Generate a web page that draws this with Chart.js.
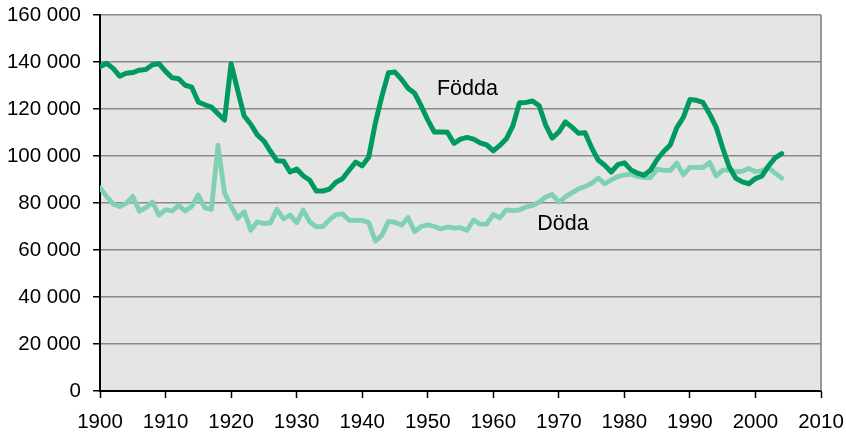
<!DOCTYPE html>
<html>
<head>
<meta charset="utf-8">
<script src="https://cdn.jsdelivr.net/npm/chart.js@4.4.0/dist/chart.umd.min.js"></script>
<style>
html,body{margin:0;padding:0;background:#fff;}
#wrap{width:846px;height:434px;position:relative;}
</style>
</head>
<body>
<div id="wrap"><canvas id="c" width="846" height="434"></canvas></div>
<script>
const years = [];
for (let y = 1900; y <= 2004; y++) years.push(y);

const fodda = [
138000,139500,137300,134000,135200,135500,136500,136800,138800,139300,
136000,133300,132900,130100,129300,123000,121800,120800,118000,115300,
139300,128000,117000,113500,109000,106400,102000,98000,97800,93200,
94500,91600,89700,85100,85100,85900,88800,90300,93900,97400,
95800,99600,113900,125400,135400,135700,132600,128800,126700,121300,
115400,110200,110200,110100,105400,107200,107900,107200,105600,104700,
102200,104500,107300,112900,122700,122800,123400,121400,113100,107600,
110200,114500,112300,109700,109900,103600,98300,96100,93200,96300,
97100,94100,92700,91800,94000,98500,101900,104700,112100,116400,
124000,123700,122800,117900,112300,103400,95300,90500,89000,88200,
90400,91500,95800,99200,101000
];

const doda = [
86500,82800,79600,78500,79900,82800,76500,78000,80400,74800,
77200,76600,79000,76600,78600,83400,77900,77300,104600,84300,
78700,73500,76300,68400,72000,71200,71500,77300,73200,74900,
71600,77000,72000,69900,70000,72800,75100,75400,72600,72600,
72600,71700,63800,66200,72200,71800,70600,73800,67800,70000,
70700,70000,68900,69800,69300,69500,68400,72800,71000,71000,
75100,73700,77100,76800,77100,78300,79000,80400,82600,83600,
80400,82600,84300,86000,87000,88400,90600,88200,89800,91200,
92000,92300,91300,90800,90800,94400,93900,93900,97000,92000,
95200,95200,95100,97300,91500,94000,94100,93400,93500,94700,
93300,93800,95000,92700,90600
];

const seriesNames = ["Födda", "Döda"];
const seriesColors = ["#009a5e", "#80d1b1"];
const labelPos = [[1951.4, 126000], [1966.7, 68300]];

const xMin = 1900, xMax = 2010, xStep = 10;
const yMin = 0, yMax = 160000, yStep = 20000;

const FONT = '"Liberation Sans", Arial, sans-serif';

function pts(vals){ return vals.map((v,i)=>({x: years[i], y: v})); }
function fmt(v){ return String(v).replace(/\B(?=(\d{3})+(?!\d))/g, ' '); }

const bgPlugin = {
  id: 'bg',
  beforeDraw(chart){
    const {ctx, chartArea:a} = chart;
    ctx.save();
    ctx.fillStyle = '#e5e5e5';
    ctx.fillRect(a.left, a.top, a.right - a.left, a.bottom - a.top);
    ctx.restore();
  },
  afterDraw(chart){
    const {ctx, chartArea:a} = chart;
    ctx.save();
    ctx.strokeStyle = '#7a7a7a';
    ctx.lineWidth = 1.5;
    ctx.beginPath();
    ctx.moveTo(a.right, a.top);
    ctx.lineTo(a.right, a.bottom);
    ctx.stroke();
    ctx.restore();
  }
};

const textPlugin = {
  id: 'labels',
  afterDatasetsDraw(chart){
    const {ctx, scales} = chart;
    ctx.save();
    ctx.fillStyle = '#000';
    ctx.font = '21.5px ' + FONT;
    ctx.textAlign = 'left';
    ctx.textBaseline = 'alphabetic';
    seriesNames.forEach((n,i)=>{
      ctx.fillText(n, scales.x.getPixelForValue(labelPos[i][0]), scales.y.getPixelForValue(labelPos[i][1]));
    });
    ctx.restore();
  }
};

new Chart(document.getElementById('c'), {
  type: 'line',
  data: {
    datasets: [
      {label: seriesNames[0], data: pts(fodda), borderColor: seriesColors[0], borderWidth: 5, pointRadius: 0, tension: 0, borderJoinStyle: 'round', borderCapStyle: 'round', fill: false},
      {label: seriesNames[1], data: pts(doda), borderColor: seriesColors[1], borderWidth: 4.8, pointRadius: 0, tension: 0, borderJoinStyle: 'round', borderCapStyle: 'round', fill: false}
    ]
  },
  options: {
    responsive: false,
    animation: false,
    devicePixelRatio: 1,
    layout: {padding: {top: 15, right: 25, left: 0, bottom: 0}},
    plugins: {legend: {display: false}, tooltip: {enabled: false}},
    scales: {
      x: {
        type: 'linear', min: xMin, max: xMax,
        afterFit(s){ s.height = 43; s.paddingLeft = 0; s.paddingRight = 0; },
        ticks: {stepSize: xStep, autoSkip: false, maxRotation: 0, padding: 12, color: '#000', font: {family: FONT, size: 20.5}, callback: v => String(v)},
        grid: {drawOnChartArea: false, drawTicks: true, tickLength: 7, tickColor: '#000', tickWidth: 1.5},
        border: {display: true, color: '#000', width: 2}
      },
      y: {
        type: 'linear', min: yMin, max: yMax,
        afterFit(s){ s.width = 100; s.paddingTop = 0; s.paddingBottom = 0; },
        ticks: {stepSize: yStep, padding: 12, color: '#000', font: {family: FONT, size: 20.5}, callback: v => fmt(v)},
        grid: {color: '#8a8a8a', lineWidth: 1.5, drawTicks: true, tickLength: 7, tickColor: '#000', tickWidth: 1.5},
        border: {display: true, color: '#000', width: 2}
      }
    }
  },
  plugins: [bgPlugin, textPlugin]
});
</script>
</body>
</html>
